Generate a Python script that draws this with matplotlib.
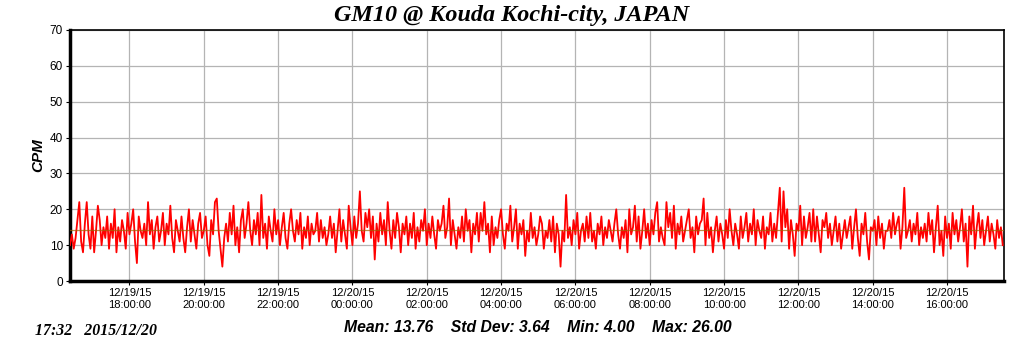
import matplotlib
matplotlib.use("Agg")
import matplotlib.pyplot as plt
import matplotlib.dates as mdates
import numpy as np
from datetime import datetime, timedelta

# ---- data (CPM, one reading every 3 minutes) ----
start_time = datetime(2015, 12, 19, 16, 24)
step_minutes = 3
cpm = [
    10, 13, 9, 12, 17, 22, 11, 8, 16, 22, 13, 9, 18, 8, 14, 21, 17, 10, 15, 12,
    18, 9, 16, 12, 20, 8, 15, 11, 17, 14, 9, 19, 13, 16, 20, 11, 5, 18, 14, 12,
    16, 10, 22, 13, 17, 9, 15, 18, 11, 14, 19, 10, 16, 13, 21, 12, 8, 17, 14, 11,
    18, 12, 8, 15, 20, 11, 17, 13, 9, 16, 19, 12, 14, 18, 10, 7, 17, 13, 22, 23,
    14, 9, 4, 12, 16, 11, 19, 13, 21, 10, 15, 8, 17, 20, 12, 16, 22, 14, 10, 17,
    13, 19, 10, 24, 12, 16, 9, 18, 14, 11, 20, 13, 17, 10, 15, 19, 12, 9, 16, 20,
    14, 11, 17, 13, 19, 9, 15, 12, 18, 10, 16, 13, 14, 19, 11, 17, 12, 15, 10, 13,
    18, 12, 16, 8, 14, 20, 11, 17, 13, 9, 21, 15, 10, 18, 12, 16, 25, 14, 11, 19,
    15, 20, 12, 18, 6, 16, 11, 19, 13, 17, 10, 22, 14, 9, 17, 12, 19, 15, 8, 16,
    13, 18, 10, 16, 12, 19, 9, 15, 11, 17, 14, 20, 10, 16, 12, 18, 13, 9, 17, 14,
    16, 21, 12, 15, 23, 10, 17, 13, 9, 15, 12, 18, 11, 20, 14, 17, 8, 16, 13, 19,
    11, 19, 14, 22, 13, 16, 8, 18, 10, 15, 12, 17, 20, 13, 9, 16, 14, 21, 11, 15,
    20, 9, 16, 13, 17, 7, 14, 11, 19, 12, 15, 10, 13, 18, 16, 9, 14, 12, 17, 11,
    18, 8, 16, 13, 4, 14, 11, 24, 12, 15, 10, 17, 13, 19, 9, 14, 16, 11, 18, 12,
    19, 11, 14, 9, 16, 13, 18, 10, 15, 12, 17, 14, 11, 16, 20, 13, 9, 15, 12, 17,
    8, 20, 13, 15, 21, 11, 18, 9, 14, 20, 12, 16, 10, 17, 13, 19, 22, 11, 15, 12,
    10, 22, 15, 19, 12, 21, 9, 16, 13, 18, 11, 14, 17, 20, 12, 15, 8, 18, 13, 16,
    17, 23, 10, 19, 12, 15, 8, 14, 18, 11, 16, 13, 9, 17, 12, 20, 14, 10, 16, 13,
    9, 18, 12, 15, 19, 11, 16, 13, 20, 10, 17, 14, 12, 18, 9, 15, 13, 19, 11, 16,
    12, 19, 26, 11, 25, 15, 20, 9, 17, 13, 7, 16, 14, 21, 10, 18, 12, 15, 19, 11,
    20, 11, 18, 13, 8, 17, 15, 19, 12, 16, 10, 14, 18, 11, 16, 9, 13, 17, 12, 15,
    18, 9, 15, 20, 12, 7, 16, 13, 19, 11, 6, 15, 14, 17, 10, 18, 12, 16, 9, 14,
    14, 17, 12, 19, 13, 16, 18, 9, 15, 26, 12, 14, 17, 11, 16, 13, 19, 10, 15, 12,
    16, 11, 19, 13, 17, 8, 15, 21, 10, 14, 7, 18, 12, 16, 9, 19, 13, 17, 11, 15,
    20, 11, 16, 4, 18, 13, 21, 9, 15, 19, 12, 17, 10, 14, 18, 11, 16, 13, 9, 17,
    12, 15, 10,
]
stat_mean = 13.76
stat_std = 3.64
stat_min = 4.00
stat_max = 26.00
title = "GM10 @ Kouda Kochi-city, JAPAN"
stamp = "17:32   2015/12/20"
x_end = datetime(2015, 12, 20, 17, 32)

times = [start_time + timedelta(minutes=step_minutes * i) for i in range(len(cpm))]

fig = plt.figure(figsize=(10.24, 3.51), dpi=100)
ax = fig.add_axes([70 / 1024, 1 - 281 / 351, 934 / 1024, 251 / 351])

ax.plot(times, cpm, color="#ff0000", lw=1.3, zorder=3)
ax.axhline(float(np.mean(cpm)), color="#a06000", lw=0.9, zorder=4, alpha=0.7)

ax.set_ylim(0, 70)
ax.set_yticks(range(0, 71, 10))
ax.set_xlim(start_time, x_end)
ax.xaxis.set_major_locator(mdates.HourLocator(byhour=range(0, 24, 2)))
ax.xaxis.set_major_formatter(mdates.DateFormatter("%m/%d/%y\n%H:%M:%S"))

ax.grid(True, color="#b4b4b4", lw=0.9, zorder=0)
ax.set_axisbelow(True)

for lab in ax.get_xticklabels():
    lab.set_fontfamily("Liberation Sans")
    lab.set_fontsize(8)
for lab in ax.get_yticklabels():
    lab.set_fontfamily("Liberation Sans")
    lab.set_fontsize(8.5)
ax.tick_params(axis="both", length=3, width=0.8, pad=2, colors="black")

ax.spines["left"].set_linewidth(2.5)
ax.spines["bottom"].set_linewidth(2.5)
ax.spines["top"].set_linewidth(1.2)
ax.spines["right"].set_linewidth(1.2)

ax.set_ylabel("CPM", fontfamily="Liberation Sans", fontweight="bold",
              fontstyle="italic", fontsize=11, labelpad=3)

fig.text(0.5, 0.955, title, ha="center", va="center",
         fontfamily="Liberation Serif", fontweight="bold", fontstyle="italic",
         fontsize=17.4)

stats = (f"Mean: {stat_mean:.2f}    Std Dev: {stat_std:.2f}    "
         f"Min: {stat_min:.2f}    Max: {stat_max:.2f}")
fig.text(538 / 1024, 1 - 327 / 351, stats, ha="center", va="center",
         fontfamily="Liberation Sans", fontweight="bold", fontstyle="italic",
         fontsize=11.3)
fig.text(35 / 1024, 1 - 331 / 351, stamp, ha="left", va="center",
         fontfamily="Liberation Serif", fontweight="bold", fontstyle="italic",
         fontsize=11.4)

fig.savefig("out.png", dpi=100)
